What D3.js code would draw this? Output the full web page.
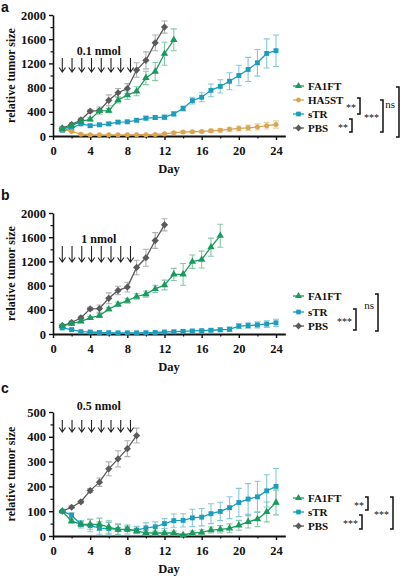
<!DOCTYPE html>
<html><head><meta charset="utf-8">
<script src="https://cdn.jsdelivr.net/npm/d3@7"></script>
<style>
html,body{margin:0;padding:0;background:#fff;}
svg{display:block;}
text{font-family:"Liberation Serif","Times New Roman",serif;font-weight:bold;fill:#111;}
</style></head><body>
<script>
// ---------- DATA ----------
const pbsA = [130,190,265,410,420,590,715,785,1090,1250,1540,1800];
const pbsAErr = [30,30,30,25,60,90,70,80,120,140,130,100];
const fa1ftA = [115,170,240,275,415,420,595,675,740,960,1065,1360,1590];
const fa1ftAErr = [20,20,25,25,30,35,50,70,75,110,150,190,180];
const strA = [95,130,200,170,185,200,230,235,260,295,305,310,365,455,585,640,755,820,905,1000,1100,1210,1365,1410];
const strAErr = [20,20,25,25,25,25,25,25,25,30,30,35,35,40,55,75,105,110,140,170,200,220,240,260];
const ha5stA = [110,75,30,22,20,20,20,20,22,22,25,35,55,65,70,75,85,95,110,125,135,150,170,190];
const ha5stAErr = [15,10,8,8,8,8,8,8,8,8,10,10,15,15,15,20,25,30,35,40,45,50,55,60];

const pbsB = [135,190,265,415,420,590,720,775,1100,1260,1545,1805];
const pbsBErr = [30,30,30,25,60,90,70,80,120,140,130,100];
const fa1ftB = [135,170,210,265,305,410,490,550,620,660,745,810,985,985,1195,1230,1435,1625];
const fa1ftBErr = [25,25,25,25,30,30,35,40,45,50,60,80,100,180,110,140,150,190];
const strB = [100,72,38,33,25,22,20,20,20,22,25,33,38,44,50,55,62,70,78,130,140,150,165,185];
const strBErr = [15,10,8,8,8,8,8,8,8,8,8,10,15,20,20,20,25,30,35,40,45,50,55,60];

const pbsC = [100,116,138,183,217,271,311,352,405];
const pbsCErr = [3,5,6,8,17,28,33,32,30];
const strC = [100,84,47,42,32,30,27,26,24,33,37,50,62,63,73,76,90,99,114,135,149,158,182,200];
const strCErr = [3,10,15,25,25,25,22,18,15,20,20,20,27,27,35,35,40,37,44,57,62,63,65,72];
const fa1ftC = [100,60,48,47,47,36,26,28,20,13,12,12,12,4,12,15,24,27,31,43,57,68,97,135];
const fa1ftCErr = [3,8,10,20,25,25,20,10,10,8,8,8,8,5,8,10,12,15,18,20,25,30,40,50];

const xTicks = [0,4,8,12,16,20,24];
const yTicksBig = [0,400,800,1200,1600,2000];
const yTicksSmall = [0,100,200,300,400,500];
const injectionDays = [1,2,3,4,5,6,7,8];

// ---------- STYLE ----------
const COL = {
  FA1FT: {line:"#1a9a5e", err:"#86c9a8", shape:"triangle"},
  HA5ST: {line:"#d9a552", err:"#ecd0a0", shape:"circle"},
  sTR:   {line:"#1b9dbb", err:"#86c8d6", shape:"square"},
  PBS:   {line:"#5a5a5a", err:"#b0b0b0", shape:"diamond"}
};
const symSize = {triangle:24, circle:20, square:24, diamond:26};
const symType = {triangle:d3.symbolTriangle, circle:d3.symbolCircle, square:d3.symbolSquare, diamond:d3.symbolSquare};
const symRot = {triangle:0, circle:0, square:0, diamond:45};

const W = 403, H = 576;
const svg = d3.select("body").append("svg").attr("width", W).attr("height", H);

function series(name, vals, errs) {
  return {name, pts: vals.map((v,i)=>({d:i+1, v, e:errs[i]}))};
}

const panels = [
  {label:"a", labelY:12, top:15, bottom:136, ymax:2000, yt:yTicksBig, minor:200, dose:"0.1 nmol",
   doseY:55, arrowTop:58, arrowBot:72,
   series:[series("FA1FT",fa1ftA,fa1ftAErr), series("HA5ST",ha5stA,ha5stAErr), series("sTR",strA,strAErr), series("PBS",pbsA,pbsAErr)],
   legY:[86,100,114,128], legX:294,
   brackets:[{x:360,y1:98,y2:114,t:"**"},{x:352,y1:119,y2:132,t:"**"},{x:383,y1:100,y2:132,t:"***"},{x:399,y1:87,y2:137,t:"ns"}]},
  {label:"b", labelY:200, top:213, bottom:334, ymax:2000, yt:yTicksBig, minor:200, dose:"1 nmol",
   doseY:243, arrowTop:246, arrowBot:262,
   series:[series("FA1FT",fa1ftB,fa1ftBErr), series("sTR",strB,strBErr), series("PBS",pbsB,pbsBErr)],
   legY:[296,312,326], legX:294,
   brackets:[{x:356,y1:309,y2:330,t:"***"},{x:378,y1:294,y2:331,t:"ns"}]},
  {label:"c", labelY:393, top:412, bottom:536, ymax:500, yt:yTicksSmall, minor:50, dose:"0.5 nmol",
   doseY:410, arrowTop:420, arrowBot:432,
   series:[series("FA1FT",fa1ftC,fa1ftCErr), series("sTR",strC,strCErr), series("PBS",pbsC,pbsCErr)],
   legY:[498,512,526], legX:294,
   brackets:[{x:368,y1:497,y2:510,t:"**"},{x:362,y1:515,y2:529,t:"***"},{x:393,y1:497,y2:529,t:"***"}]}
];

const x = d3.scaleLinear().domain([0,24]).range([53,276]);

panels.forEach(p => {
  const g = svg.append("g");
  const y = d3.scaleLinear().domain([0,p.ymax]).range([p.bottom, p.top]);

  g.append("text").attr("x",1).attr("y",p.labelY).style("font-family","Liberation Sans, Arial, sans-serif")
    .style("font-size","14px").style("font-weight","bold").text(p.label);

  const yMinor = d3.range(0, p.ymax + 1, p.minor).filter(v => !p.yt.includes(v));
  g.append("g").attr("transform",`translate(${x(0)},0)`)
    .call(d3.axisLeft(y).tickValues(yMinor).tickSize(2.5).tickFormat(""))
    .call(s=>s.select(".domain").remove())
    .selectAll("line").attr("stroke","#111").attr("stroke-width",1.2);
  const ya = g.append("g").attr("transform",`translate(${x(0)},0)`)
    .call(d3.axisLeft(y).tickValues(p.yt).tickSize(4).tickSizeOuter(0).tickPadding(3).tickFormat(d3.format("d")));
  ya.select(".domain").attr("stroke","#111").attr("stroke-width",1.6);
  ya.selectAll("line").attr("stroke","#111").attr("stroke-width",1.4);
  ya.selectAll("text").style("font-family","Liberation Serif, serif").style("font-weight","bold").style("font-size","12.5px").attr("fill","#111");

  const xs = d3.scaleLinear().domain([0,25]).range([x(0), x(25)]);
  g.append("g").attr("transform",`translate(0,${p.bottom})`)
    .call(d3.axisBottom(xs).tickValues(d3.range(2,25,4)).tickSize(2.5).tickFormat(""))
    .call(s=>s.select(".domain").remove())
    .selectAll("line").attr("stroke","#111").attr("stroke-width",1.2);
  const xa = g.append("g").attr("transform",`translate(0,${p.bottom})`)
    .call(d3.axisBottom(xs).tickValues(xTicks).tickSize(4).tickSizeOuter(0).tickPadding(6));
  xa.select(".domain").attr("stroke","#111").attr("stroke-width",1.8);
  xa.selectAll("line").attr("stroke","#111").attr("stroke-width",1.4);
  xa.selectAll("text").style("font-family","Liberation Serif, serif").style("font-weight","bold").style("font-size","12.5px").attr("fill","#111");

  g.append("text").attr("x",169).attr("y",p.bottom+37).attr("text-anchor","middle").style("font-size","12.5px").text("Day");
  g.append("text").attr("transform",`translate(15,${(p.top+p.bottom)/2}) rotate(-90)`)
    .attr("text-anchor","middle").style("font-size","12px").text("relative tumor size");

  g.append("text").attr("x",(x(1)+x(8))/2+4).attr("y",p.doseY).attr("text-anchor","middle").style("font-size","12px").text(p.dose);
  injectionDays.forEach(d => {
    const ax = x(d) + (d-1)*0.45;
    g.append("path").attr("d",`M${ax},${p.arrowTop}V${p.arrowBot}M${ax-3.2},${p.arrowBot-4.5}L${ax},${p.arrowBot}L${ax+3.2},${p.arrowBot-4.5}`)
      .attr("fill","none").attr("stroke","#222").attr("stroke-width",1.1);
  });

  const order = p.series.slice().reverse();
  order.forEach(s => {
    const c = COL[s.name];
    const eg = g.append("g").attr("stroke",c.err).attr("stroke-width",1.1);
    s.pts.forEach(pt => {
      const px = x(pt.d), y1 = y(pt.v+pt.e), y2 = y(Math.max(0,pt.v-pt.e));
      eg.append("path").attr("d",`M${px},${y1}V${y2}M${px-3},${y1}H${px+3}M${px-3},${y2}H${px+3}`).attr("fill","none");
    });
  });
  order.forEach(s => {
    const c = COL[s.name];
    g.append("path").datum(s.pts).attr("fill","none").attr("stroke",c.line).attr("stroke-width",1.3)
      .attr("d", d3.line().x(d=>x(d.d)).y(d=>y(d.v)));
    g.selectAll(null).data(s.pts).enter().append("path")
      .attr("transform",d=>`translate(${x(d.d)},${y(d.v)}) rotate(${symRot[c.shape]})`)
      .attr("d", d3.symbol().type(symType[c.shape]).size(symSize[c.shape]))
      .attr("fill",c.line);
  });

  p.series.forEach((s,i) => {
    const c = COL[s.name], ly = p.legY[i];
    g.append("line").attr("x1",p.legX-1).attr("x2",p.legX+10).attr("y1",ly).attr("y2",ly).attr("stroke",c.line).attr("stroke-width",1.3);
    g.append("path").attr("transform",`translate(${p.legX+4.5},${ly}) rotate(${symRot[c.shape]})`)
      .attr("d", d3.symbol().type(symType[c.shape]).size(symSize[c.shape]*0.9)).attr("fill",c.line);
    g.append("text").attr("x",p.legX+14).attr("y",ly+4).style("font-size","11px").text(s.name);
  });

  p.brackets.forEach(b => {
    g.append("path").attr("d",`M${b.x-3},${b.y1}H${b.x}V${b.y2}H${b.x-3}`).attr("fill","none").attr("stroke","#111").attr("stroke-width",1.5);
    g.append("text").attr("x",b.x-4).attr("y",(b.y1+b.y2)/2 + (b.t==="ns"? -4 : 5)).attr("text-anchor","end")
      .style("font-size", b.t==="ns" ? "11px" : "10px").style("font-weight","normal").attr("fill","#333").text(b.t);
  });
});
</script>
</body></html>
